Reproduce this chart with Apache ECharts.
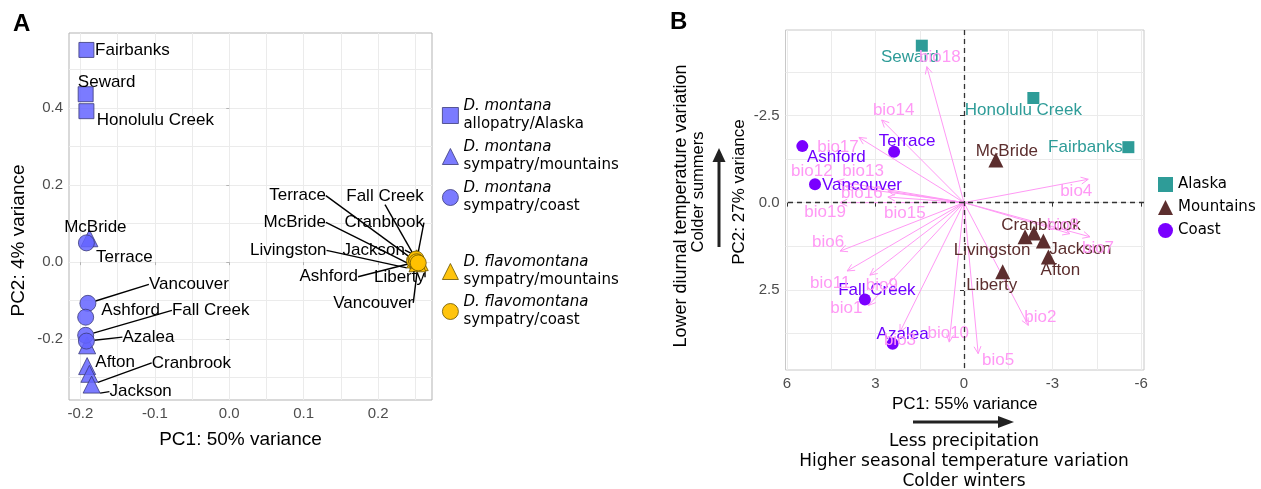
<!DOCTYPE html>
<html><head><meta charset="utf-8">
<script src="https://cdn.jsdelivr.net/npm/echarts@6/dist/echarts.min.js"></script>
<style>html,body{margin:0;padding:0;background:#fff}#c{width:1261px;height:489px}</style>
</head><body><div id="c"></div>
<script>
// ---------------- Panel A data (PCA of populations) ----------------
const aAlaskaNames = ['Fairbanks', 'Seward', 'Honolulu Creek'];
const aAlaskaPC1 = [-0.192, -0.193, -0.192];
const aAlaskaPC2 = [0.551, 0.436, 0.392];

const aMontMtnNames = ['McBride', 'Livingston', 'Afton', 'Cranbrook', 'Jackson'];
const aMontMtnPC1 = [-0.188, -0.191, -0.191, -0.188, -0.185];
const aMontMtnPC2 = [0.062, -0.216, -0.270, -0.290, -0.318];

const aMontCoastNames = ['Terrace', 'Vancouver', 'Ashford', 'Fall Creek', 'Azalea'];
const aMontCoastPC1 = [-0.192, -0.190, -0.193, -0.193, -0.192];
const aMontCoastPC2 = [0.050, -0.107, -0.143, -0.190, -0.205];

const aFlavMtnNames = ['McBride', 'Cranbrook', 'Livingston', 'Jackson', 'Liberty'];
const aFlavMtnPC1 = [0.252, 0.254, 0.250, 0.256, 0.253];
const aFlavMtnPC2 = [0.010, 0.004, 0.007, 0.000, -0.003];

const aFlavCoastNames = ['Terrace', 'Fall Creek', 'Ashford', 'Vancouver'];
const aFlavCoastPC1 = [0.249, 0.251, 0.252, 0.254];
const aFlavCoastPC2 = [0.004, 0.008, 0.001, -0.002];

const aXTickLabels = [-0.2, -0.1, 0, 0.1, 0.2];
const aYTickLabels = [-0.2, 0, 0.2, 0.4];
const aXGrid = [-0.2, -0.15, -0.1, -0.05, 0, 0.05, 0.1, 0.15, 0.2, 0.25];
const aYGrid = [-0.3, -0.2, -0.1, 0, 0.1, 0.2, 0.3, 0.4, 0.5];

// ---------------- Panel B data (climate PCA) ----------------
const bAlaskaNames = ['Seward', 'Honolulu Creek', 'Fairbanks'];
const bAlaskaPC1 = [1.43, -2.35, -5.57];
const bAlaskaPC2 = [-4.5, -3.0, -1.59];

const bMtnNames = ['McBride', 'Livingston', 'Cranbrook', 'Jackson', 'Afton', 'Liberty'];
const bMtnPC1 = [-1.08, -2.07, -2.37, -2.69, -2.86, -1.31];
const bMtnPC2 = [-1.22, 0.98, 0.87, 1.10, 1.56, 1.98];

const bCoastNames = ['Ashford', 'Terrace', 'Vancouver', 'Fall Creek', 'Azalea'];
const bCoastPC1 = [5.48, 2.37, 5.05, 3.36, 2.42];
const bCoastPC2 = [-1.62, -1.46, -0.53, 2.78, 4.05];

const bioNames = ['bio1','bio2','bio3','bio4','bio5','bio6','bio7','bio8','bio9','bio10',
                  'bio11','bio12','bio13','bio14','bio15','bio16','bio17','bio18','bio19'];
const bioPC1 = [3.24, -2.18, 2.17, -4.21, -0.48, 4.20, -4.27, -3.59, 3.19, 0.50,
                3.96, 4.31, 4.03, 2.79, 2.58, 2.58, 3.56, 1.26, 4.20];
const bioPC2 = [2.95, 3.52, 3.71, -0.67, 4.33, 1.39, 0.98, 0.89, 2.08, 4.00,
                1.96, -0.62, -0.47, -2.37, -0.16, -0.33, -1.87, -3.90, 0.00];

const bXTickLabels = [-6, -3, 0, 3, 6];
const bYTickLabels = [-2.5, 0, 2.5];
const bXGrid = [-6, -4.5, -3, -1.5, 0, 1.5, 3, 4.5, 6];
const bYGrid = [-3.75, -2.5, -1.25, 0, 1.25, 2.5, 3.75];

// ---------------- label placement (pixel offsets of label centre from point; 3rd = leader line) ----------------
const aAlaskaLab = [[46, 0, 0], [21, -12, 0], [69, 9, 0]];
const aMontMtnLab = [[6, -11, 0], null, [28, -4, 0], [102, -11, 1], [49, 7, 1]];
const aMontCoastLab = [[38, 14, 0], [101, -19, 1], [45, -7, 0], [125, -25, 1], [62, -4, 1]];
const aFlavMtnLab = [[-122, -36, 1], [-34, -38, 1], [-127, -9, 1], [-46, -12, 1], [-18, 14, 1]];
const aFlavCoastLab = [[-117, -65, 1], [-31, -63, 1], [-88, 15, 1], [-45, 40, 1]];

const bAlaskaLab = [[-12, 12], [-10, 12], [-43, 0]];
const bMtnLab = [[11, -9], [-33, 14], [7, -8], [37, 8], [12, 13], [-11, 14]];
const bCoastLab = [[34, 11], [13, -10], [47, 1], [12, -9], [10, -10]];
const bioLab = [[-22, 3], [12, -8], [0, 8], [-12, 12], [20, 7], [-12, -9], [8, 12], [-7, -8], [12, 10], [-1, -9],
                [-17, 12], [-25, -10], [18, -15], [12, -10], [17, 16], [-26, 2], [-21, 10], [13, -9], [-15, 10]];

// ---------------- styles ----------------
const FONT = 'Liberation Sans';
const DV = 'DejaVu Sans';
const MONT = 'rgba(100,100,255,0.85)';
const MONT_B = '#3a3a7a';
const FLAV = 'rgba(255,193,0,0.95)';
const FLAV_B = '#6a5400';
const TEAL = '#2e9c98';
const BROWN = '#5c2e2e';
const PURPLE = '#7a00ff';
const PINK = '#ff99f5';

function items(xs, ys, names, offs) {
  return names.map((n, i) => {
    const o = offs[i];
    return { name: n, value: [xs[i], ys[i]], label: { show: !!o }, labelLine: { show: !!(o && o[2]) } };
  });
}
function layoutFrom(offs) {
  return function (p) {
    const o = offs[p.dataIndex];
    if (!o) return {};
    return { x: p.rect.x + p.rect.width / 2 + o[0], y: p.rect.y + p.rect.height / 2 + o[1],
             align: 'center', verticalAlign: 'middle' };
  };
}
function aSeries(name, symbol, size, color, border, xs, ys, names, offs) {
  return {
    type: 'scatter', name: name, xAxisIndex: 0, yAxisIndex: 0,
    symbol: symbol, symbolSize: size,
    itemStyle: { color: color, borderColor: border, borderWidth: 0.8, opacity: 1 },
    data: items(xs, ys, names, offs),
    label: { show: true, formatter: '{b}', position: 'inside', color: '#000', fontSize: 17, fontFamily: FONT },
    labelLine: { show: false, lineStyle: { color: '#000', width: 1.4, opacity: 1 } },
    labelLayout: layoutFrom(offs),
    emphasis: { disabled: true }, silent: true
  };
}
function bSeries(name, symbol, size, color, labColor, xs, ys, names, offs, extra) {
  return Object.assign({
    type: 'scatter', name: name, xAxisIndex: 2, yAxisIndex: 2,
    symbol: symbol, symbolSize: size,
    itemStyle: { color: color, opacity: 1 },
    data: names.map((n, i) => ({ name: n, value: [xs[i], ys[i]] })),
    label: { show: true, formatter: '{b}', position: 'inside', color: labColor, fontSize: 17, fontFamily: FONT },
    labelLayout: layoutFrom(offs),
    emphasis: { disabled: true }, silent: true, z: 3
  }, extra || {});
}

const legendRich = {
  i: { fontStyle: 'italic', fontSize: 15, fontFamily: DV, lineHeight: 18, color: '#000' },
  n: { fontSize: 15, fontFamily: DV, lineHeight: 18, color: '#000' }
};
const legendFmt = name => name.replace(/^(D\. \w+) (.*)$/, '{i|$1}\n{n|$2}');

const tickLabA = { color: '#4d4d4d', fontSize: 15, fontFamily: FONT };

const option = {
  animation: false,
  backgroundColor: '#fff',
  grid: [
    { left: 69, top: 33, width: 363, height: 367, show: true, borderColor: '#b3b3b3', borderWidth: 1, backgroundColor: 'transparent', outerBoundsMode: 'none' },
    { left: 785.5, top: 30, width: 358.5, height: 340, show: true, borderColor: '#c8c8c8', borderWidth: 1, backgroundColor: 'transparent', outerBoundsMode: 'none' }
  ],
  xAxis: [
    { gridIndex: 0, type: 'value', min: -0.2154, max: 0.2725,
      axisLine: { show: false },
      axisTick: { show: true, customValues: aXTickLabels, length: 3, lineStyle: { color: '#b3b3b3' } },
      axisLabel: Object.assign({ customValues: aXTickLabels, formatter: v => v.toFixed(1), margin: 6 }, tickLabA),
      splitLine: { show: false },
      name: 'PC1: 50% variance', nameLocation: 'middle', nameGap: 30,
      nameTextStyle: { fontSize: 19, fontFamily: FONT, color: '#000', padding: [0, 20, 0, 0] } },
    { gridIndex: 0, type: 'value', min: -0.2154, max: 0.2725, position: 'top',
      axisLine: { show: false }, axisLabel: { show: false },
      axisTick: { show: false, customValues: aXGrid },
      splitLine: { show: true, lineStyle: { color: '#ebebeb', width: 1 } } },
    { gridIndex: 1, type: 'value', min: -6.1, max: 6.05, inverse: true,
      axisLine: { show: false },
      axisTick: { show: true, customValues: bXTickLabels, length: 4, lineStyle: { color: '#333' } },
      axisLabel: Object.assign({ customValues: bXTickLabels, formatter: v => String(v), margin: 6 }, tickLabA),
      splitLine: { show: false },
      name: 'PC1: 55% variance', nameLocation: 'middle', nameGap: 26,
      nameTextStyle: { fontSize: 17, fontFamily: FONT, color: '#000' } },
    { gridIndex: 1, type: 'value', min: -6.1, max: 6.05, inverse: true, position: 'top',
      axisLine: { show: false }, axisLabel: { show: false },
      axisTick: { show: false, customValues: bXGrid },
      splitLine: { show: true, lineStyle: { color: '#ebebeb', width: 1 } } }
  ],
  yAxis: [
    { gridIndex: 0, type: 'value', min: -0.358, max: 0.595,
      axisLine: { show: false },
      axisTick: { show: true, customValues: aYTickLabels, length: 3, lineStyle: { color: '#b3b3b3' } },
      axisLabel: Object.assign({ customValues: aYTickLabels, formatter: v => v.toFixed(1), margin: 6 }, tickLabA),
      splitLine: { show: false },
      name: 'PC2: 4% variance', nameLocation: 'middle', nameGap: 41,
      nameTextStyle: { fontSize: 19, fontFamily: FONT, color: '#000', padding: [0, 48, 0, 0] } },
    { gridIndex: 0, type: 'value', min: -0.358, max: 0.595, position: 'right',
      axisLine: { show: false }, axisLabel: { show: false },
      axisTick: { show: false, customValues: aYGrid },
      splitLine: { show: true, lineStyle: { color: '#ebebeb', width: 1 } } },
    { gridIndex: 1, type: 'value', min: -4.95, max: 4.8, inverse: true,
      axisLine: { show: false },
      axisTick: { show: true, customValues: bYTickLabels, length: 4, lineStyle: { color: '#333' } },
      axisLabel: Object.assign({ customValues: bYTickLabels, formatter: v => v.toFixed(1), margin: 6 }, tickLabA),
      splitLine: { show: false },
      name: 'PC2: 27% variance', nameLocation: 'middle', nameGap: 38,
      nameTextStyle: { fontSize: 17, fontFamily: FONT, color: '#000', padding: [0, 0, 0, 16] } },
    { gridIndex: 1, type: 'value', min: -4.95, max: 4.8, inverse: true, position: 'right',
      axisLine: { show: false }, axisLabel: { show: false },
      axisTick: { show: false, customValues: bYGrid },
      splitLine: { show: true, lineStyle: { color: '#ebebeb', width: 1 } } }
  ],
  legend: [
    { orient: 'vertical', left: 437, top: 94, itemWidth: 16, itemHeight: 16, itemGap: 8, selectedMode: false,
      itemStyle: { borderWidth: 0.8 },
      data: ['D. montana allopatry/Alaska', 'D. montana sympatry/mountains', 'D. montana sympatry/coast'],
      formatter: legendFmt, textStyle: { rich: legendRich } },
    { orient: 'vertical', left: 437, top: 250, itemWidth: 16, itemHeight: 16, itemGap: 7, selectedMode: false,
      itemStyle: { borderWidth: 0.8 },
      data: ['D. flavomontana sympatry/mountains', 'D. flavomontana sympatry/coast'],
      formatter: legendFmt, textStyle: { rich: legendRich } },
    { orient: 'vertical', left: 1153, top: 172, itemWidth: 15, itemHeight: 15, itemGap: 8, selectedMode: false,
      data: ['Alaska', 'Mountains', 'Coast'],
      textStyle: { fontSize: 15, fontFamily: DV, color: '#000' } }
  ],
  graphic: [
    { type: 'text', x: 13, y: 12, style: { text: 'A', fontSize: 24, fontWeight: 'bold', fontFamily: FONT, fill: '#000' } },
    { type: 'text', x: 670, y: 10, style: { text: 'B', fontSize: 24, fontWeight: 'bold', fontFamily: FONT, fill: '#000' } },
    { type: 'line', shape: { x1: 719, y1: 247, x2: 719, y2: 160 }, style: { stroke: '#222', lineWidth: 3 } },
    { type: 'polygon', shape: { points: [[712.5, 162], [719, 148], [725.5, 162]] }, style: { fill: '#222' } },
    { type: 'line', shape: { x1: 913, y1: 422, x2: 1000, y2: 422 }, style: { stroke: '#222', lineWidth: 3 } },
    { type: 'polygon', shape: { points: [[998, 416], [1014, 422], [998, 428]] }, style: { fill: '#222' } },
    { type: 'text', x: 681, y: 206, rotation: Math.PI / 2,
      style: { text: 'Lower diurnal temperature variation', align: 'center', verticalAlign: 'middle', fontSize: 18, fontFamily: FONT, fill: '#000' } },
    { type: 'text', x: 698, y: 192, rotation: Math.PI / 2,
      style: { text: 'Colder summers', align: 'center', verticalAlign: 'middle', fontSize: 16.5, fontFamily: FONT, fill: '#000' } },
    { type: 'text', x: 964, y: 441.5,
      style: { text: 'Less precipitation', align: 'center', verticalAlign: 'middle', fontSize: 17, fontFamily: DV, fill: '#000' } },
    { type: 'text', x: 964, y: 461.5,
      style: { text: 'Higher seasonal temperature variation', align: 'center', verticalAlign: 'middle', fontSize: 17, fontFamily: DV, fill: '#000' } },
    { type: 'text', x: 964, y: 481.5,
      style: { text: 'Colder winters', align: 'center', verticalAlign: 'middle', fontSize: 17, fontFamily: DV, fill: '#000' } }
  ],
  series: [
    aSeries('D. montana allopatry/Alaska', 'rect', 15, MONT, MONT_B, aAlaskaPC1, aAlaskaPC2, aAlaskaNames, aAlaskaLab),
    aSeries('D. montana sympatry/mountains', 'triangle', 17, MONT, MONT_B, aMontMtnPC1, aMontMtnPC2, aMontMtnNames, aMontMtnLab),
    aSeries('D. montana sympatry/coast', 'circle', 16, MONT, MONT_B, aMontCoastPC1, aMontCoastPC2, aMontCoastNames, aMontCoastLab),
    aSeries('D. flavomontana sympatry/mountains', 'triangle', 17, FLAV, FLAV_B, aFlavMtnPC1, aFlavMtnPC2, aFlavMtnNames, aFlavMtnLab),
    aSeries('D. flavomontana sympatry/coast', 'circle', 16, FLAV, FLAV_B, aFlavCoastPC1, aFlavCoastPC2, aFlavCoastNames, aFlavCoastLab),
    {
      type: 'custom', name: 'loadings', xAxisIndex: 2, yAxisIndex: 2, silent: true, z: 2,
      data: bioNames.map((n, i) => [bioPC1[i], bioPC2[i]]),
      renderItem: function (params, api) {
        const o = api.coord([0, 0]);
        const t = api.coord([api.value(0), api.value(1)]);
        const ang = Math.atan2(t[1] - o[1], t[0] - o[0]);
        const h = 8, a = Math.PI / 7;
        const p1 = [t[0] - h * Math.cos(ang - a), t[1] - h * Math.sin(ang - a)];
        const p2 = [t[0] - h * Math.cos(ang + a), t[1] - h * Math.sin(ang + a)];
        return { type: 'group', children: [
          { type: 'line', shape: { x1: o[0], y1: o[1], x2: t[0], y2: t[1] }, style: { stroke: PINK, lineWidth: 1, fill: null } },
          { type: 'polyline', shape: { points: [p1, t, p2] }, style: { stroke: PINK, lineWidth: 1, fill: null } }
        ] };
      }
    },
    bSeries('Alaska', 'rect', 12, TEAL, TEAL, bAlaskaPC1, bAlaskaPC2, bAlaskaNames, bAlaskaLab, {
      markLine: { silent: true, symbol: ['none', 'none'], label: { show: false },
        lineStyle: { color: '#333', type: [5, 4], width: 1.3, opacity: 1 },
        emphasis: { disabled: true },
        data: [{ xAxis: 0 }, { yAxis: 0 }] }
    }),
    bSeries('Mountains', 'triangle', 15, BROWN, BROWN, bMtnPC1, bMtnPC2, bMtnNames, bMtnLab),
    bSeries('Coast', 'circle', 12, PURPLE, '#6f00ff', bCoastPC1, bCoastPC2, bCoastNames, bCoastLab),
    {
      type: 'scatter', name: 'loadingLabels', xAxisIndex: 2, yAxisIndex: 2, silent: true, z: 4,
      symbolSize: 1, itemStyle: { color: 'rgba(0,0,0,0)', opacity: 1 },
      data: bioNames.map((n, i) => ({ name: n, value: [bioPC1[i], bioPC2[i]] })),
      label: { show: true, formatter: '{b}', position: 'inside', color: PINK, fontSize: 17, fontFamily: FONT },
      labelLayout: layoutFrom(bioLab),
      emphasis: { disabled: true }
    }
  ]
};
const chart = echarts.init(document.getElementById('c'));
chart.setOption(option);
</script>
</body></html>
